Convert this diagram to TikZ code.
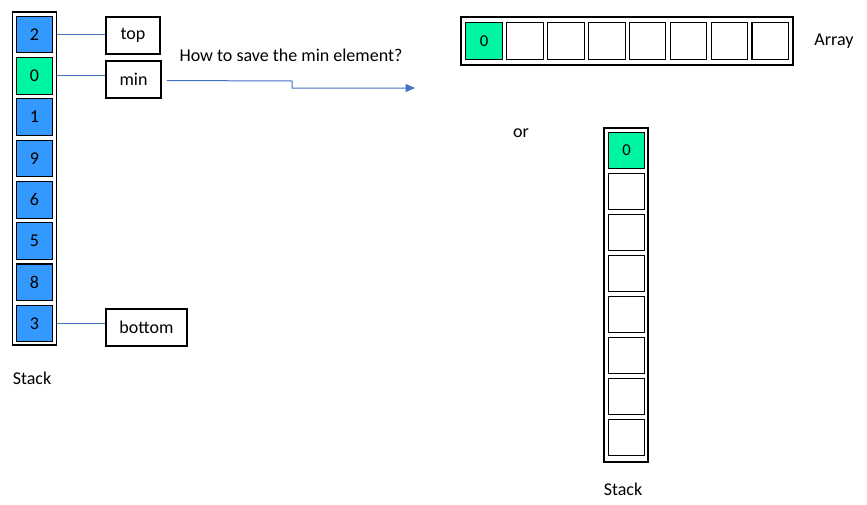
\documentclass[tikz,border=0pt]{standalone}
\usepackage{fontspec}
\setmainfont{Carlito}
\usetikzlibrary{arrows.meta,calc}
\definecolor{cblue}{RGB}{51,153,255}
\definecolor{cgreen}{RGB}{0,245,160}
\definecolor{cline}{RGB}{68,114,196}
\begin{document}
\begin{tikzpicture}[x=0.75pt,y=-0.75pt,
  cell/.style={draw=black,line width=0.8pt,minimum width=27.5pt,minimum height=27.5pt,inner sep=0pt,font=\fontsize{13.5}{16}\selectfont},
  bluecell/.style={cell,fill=cblue},
  greencell/.style={cell,fill=cgreen},
  smallgreen/.style={greencell,font=\fontsize{12.5}{15}\selectfont},
  emptycell/.style={cell,fill=white},
  frame/.style={draw=black,line width=0.8pt,inner sep=0pt},
  label/.style={draw=black,line width=0.8pt,fill=white,inner sep=0pt,minimum height=27.75pt,font=\fontsize{13.5}{16}\selectfont},
  txt/.style={inner sep=0pt,font=\fontsize{13.5}{16}\selectfont},
  conn/.style={draw=cline,line width=0.75pt}]
\useasboundingbox (0,0) rectangle (867,504);
% left stack
\node[frame,minimum width=33pt,minimum height=249.75pt] (lstack) at (34.5,178.5) {};
\foreach \v/\s [count=\i from 0] in {2/bluecell,0/greencell,1/bluecell,9/bluecell,6/bluecell,5/bluecell,8/bluecell,3/bluecell}
  \node[\s] (l\i) at (34.5,{34.5+41.3*\i}) {\v};
\node[label,minimum width=40.5pt] (top) at (133,35.5) {top};
\node[label,minimum width=41.25pt] (min) at (133.5,79.5) {min};
\node[label,minimum width=60.75pt] (bottom) at (146.5,327.5) {bottom};
\draw[conn] (lstack.east |- l0) -- (top.west |- l0);
\draw[conn] (lstack.east |- l1) -- (min.west |- l1);
\draw[conn] (lstack.east |- l7) -- (bottom.west |- l7);
\node[txt] (lstacklbl) at (32,378) {Stack};
% question
\node[txt] (q) at (291,55) {How to save the min element?};
\coordinate (aend) at (415,88);
\draw[conn,-{Triangle[length=7pt,width=6pt]}] ($(min.east)+(5,1)$) -- (292,81) -- (292,88) -- (aend);
% array
\node[frame,minimum width=249pt,minimum height=36pt] (arr) at (627,41) {};
\node[smallgreen] (a0) at (484,41) {0};
\foreach \i in {1,...,7}
  \node[emptycell] (a\i) at ({484+40.9*\i},41) {};
\node[txt] (arrlbl) at (834,41) {Array};
\node[txt] (or) at (521,133) {or};
% right stack
\node[frame,minimum width=33pt,minimum height=250.5pt] (rstack) at (626,295) {};
\node[smallgreen] (r0) at (626.5,150.5) {0};
\foreach \i in {1,...,7}
  \node[emptycell] (r\i) at (626.5,{150.5+41*\i}) {};
\node[txt] (rstacklbl) at (623,489) {Stack};
\end{tikzpicture}
\end{document}
